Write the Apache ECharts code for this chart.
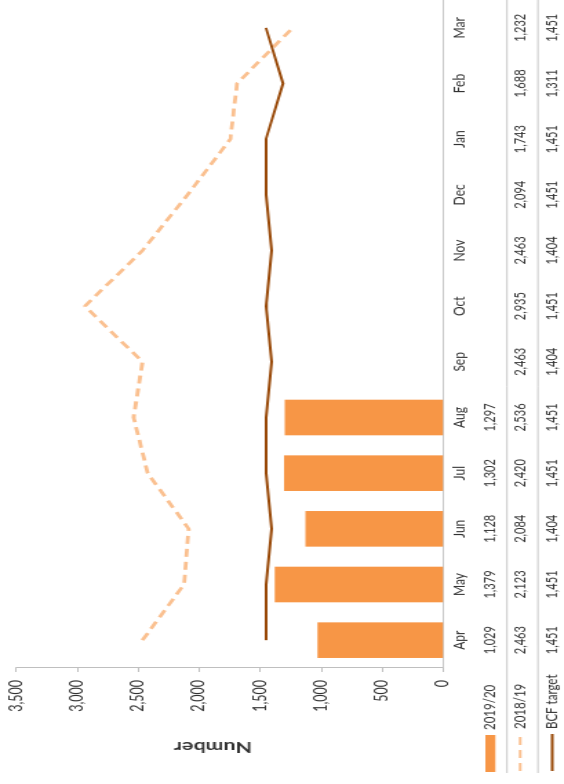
<!DOCTYPE html>
<html>
<head>
<meta charset="utf-8">
<script src="https://cdn.jsdelivr.net/npm/echarts@6/dist/echarts.min.js"></script>
<style>
  html, body { margin: 0; padding: 0; background: #fff; overflow: hidden; width: 564px; height: 784px; }
  /* chart is laid out landscape (784 x 409), stretched vertically to 564 and turned a quarter turn anticlockwise */
  #chart { position: absolute; left: 0; top: 0; width: 784px; height: 409px;
           transform-origin: 0 0; transform: translate(0, 784px) rotate(-90deg) scale(1, 1.37897); }
</style>
</head>
<body>
<div id="chart"></div>
<script>
// Monthly figures, April to March
const months = ['Apr', 'May', 'Jun', 'Jul', 'Aug', 'Sep', 'Oct', 'Nov', 'Dec', 'Jan', 'Feb', 'Mar'];
const year2019 = [1029, 1379, 1128, 1302, 1297, null, null, null, null, null, null, null];
const year2018 = [2463, 2123, 2084, 2420, 2536, 2463, 2935, 2463, 2094, 1743, 1688, 1232];
const bcfTarget = [1451, 1451, 1404, 1451, 1451, 1404, 1451, 1404, 1451, 1451, 1311, 1451];
const seriesNames = ['2019/20', '2018/19', 'BCF target'];
const axisTitle = 'Number';

const W = 784, H = 409;
const S = 564 / H;              // vertical stretch applied by the page transform
const sy = px => px / S;        // convert a stretched distance back to layout units

const FONT = 'Lato, "Open Sans", sans-serif';
const TEXT = '#333333';
const RULE = '#BFBFBF';
const COLORS = { bar: '#F79646', dashed: '#FAC090', target: '#984807' };

const fmt = v => (v == null ? '' : String(v).replace(/\B(?=(\d{3})+(?!\d))/g, ','));

// layout (vertical values in stretched pixels)
const plotTop = sy(16);
const plotBottom = sy(443);
const VALUE_FS = 11, CAT_FS = 12, LEG_FS = 11.5, TICK_FS = 12.5;
const rowCentre = { cat: sy(460), r1: sy(490), r2: sy(520), r3: sy(552) };
const rowRules = [sy(507), sy(538)];

// one row of the data table under the plot, aligned to the month columns
function tableRow(values, centre) {
  return {
    type: 'category', data: months, position: 'bottom', gridIndex: 0,
    axisLine: { show: false }, axisTick: { show: false }, splitLine: { show: false },
    axisLabel: {
      interval: 0, margin: centre - plotBottom - VALUE_FS / 2,
      fontSize: VALUE_FS, color: TEXT, fontFamily: FONT,
      formatter: (v, i) => fmt(values[i])
    }
  };
}

function legendRow(name, centre, itemHeight, icon) {
  const l = {
    data: [name], left: 12, top: centre - Math.max(itemHeight, LEG_FS) / 2,
    orient: 'horizontal', padding: 0, itemGap: 0,
    itemWidth: 37, itemHeight: itemHeight, selectedMode: false,
    itemStyle: { opacity: 0, borderWidth: 0 },
    textStyle: { fontSize: LEG_FS, color: TEXT, fontFamily: FONT }
  };
  if (icon) { l.icon = icon; l.itemStyle = { opacity: 1 }; }
  return l;
}

const chart = echarts.init(document.getElementById('chart'), null, { width: W, height: H });
chart.setOption({
  animation: false,
  backgroundColor: '#fff',
  textStyle: { fontFamily: FONT },
  grid: { left: 116, right: -3, top: plotTop, bottom: H - plotBottom, containLabel: false },
  xAxis: [
    {
      type: 'category', data: months, position: 'bottom',
      axisLine: { lineStyle: { color: RULE, width: sy(1.2) } },
      axisTick: { show: false },
      axisLabel: { interval: 0, margin: rowCentre.cat - plotBottom - CAT_FS / 2,
                   fontSize: CAT_FS, color: TEXT, fontFamily: FONT }
    },
    tableRow(year2019, rowCentre.r1),
    tableRow(year2018, rowCentre.r2),
    tableRow(bcfTarget, rowCentre.r3)
  ],
  yAxis: {
    type: 'value', min: 0, max: 3500, interval: 500,
    axisLine: { show: true, lineStyle: { color: RULE, width: 1 } },
    axisTick: { show: true, length: 4, lineStyle: { color: RULE } },
    splitLine: { show: false },
    axisLabel: { margin: 12, fontSize: TICK_FS, color: TEXT, fontFamily: FONT, formatter: v => fmt(v) }
  },
  legend: [
    legendRow(seriesNames[0], rowCentre.r1, sy(10), 'rect'),
    legendRow(seriesNames[1], rowCentre.r2, 10),
    legendRow(seriesNames[2], rowCentre.r3, 10)
  ],
  graphic: [
    { type: 'line', silent: true, shape: { x1: 11, y1: rowRules[0], x2: W, y2: rowRules[0] },
      style: { stroke: RULE, lineWidth: sy(1.2) } },
    { type: 'line', silent: true, shape: { x1: 11, y1: rowRules[1], x2: W, y2: rowRules[1] },
      style: { stroke: RULE, lineWidth: sy(1.2) } },
    { type: 'text', silent: true, x: 37, y: sy(213), rotation: Math.PI / 2,
      style: { text: axisTitle, font: 'bold 15.5px ' + FONT, fill: TEXT, align: 'center', verticalAlign: 'middle' } }
  ],
  series: [
    {
      name: seriesNames[0], type: 'bar', xAxisIndex: 0, data: year2019,
      barCategoryGap: '36%', itemStyle: { color: COLORS.bar }, z: 2
    },
    {
      name: seriesNames[1], type: 'line', xAxisIndex: 0, data: year2018,
      symbol: 'none', lineStyle: { color: COLORS.dashed, width: 2.8, type: [8, 5] },
      itemStyle: { color: COLORS.dashed }, z: 3
    },
    {
      name: seriesNames[2], type: 'line', xAxisIndex: 0, data: bcfTarget,
      symbol: 'none', lineStyle: { color: COLORS.target, width: 2 },
      itemStyle: { color: COLORS.target }, z: 4
    }
  ]
});
</script>
</body>
</html>
